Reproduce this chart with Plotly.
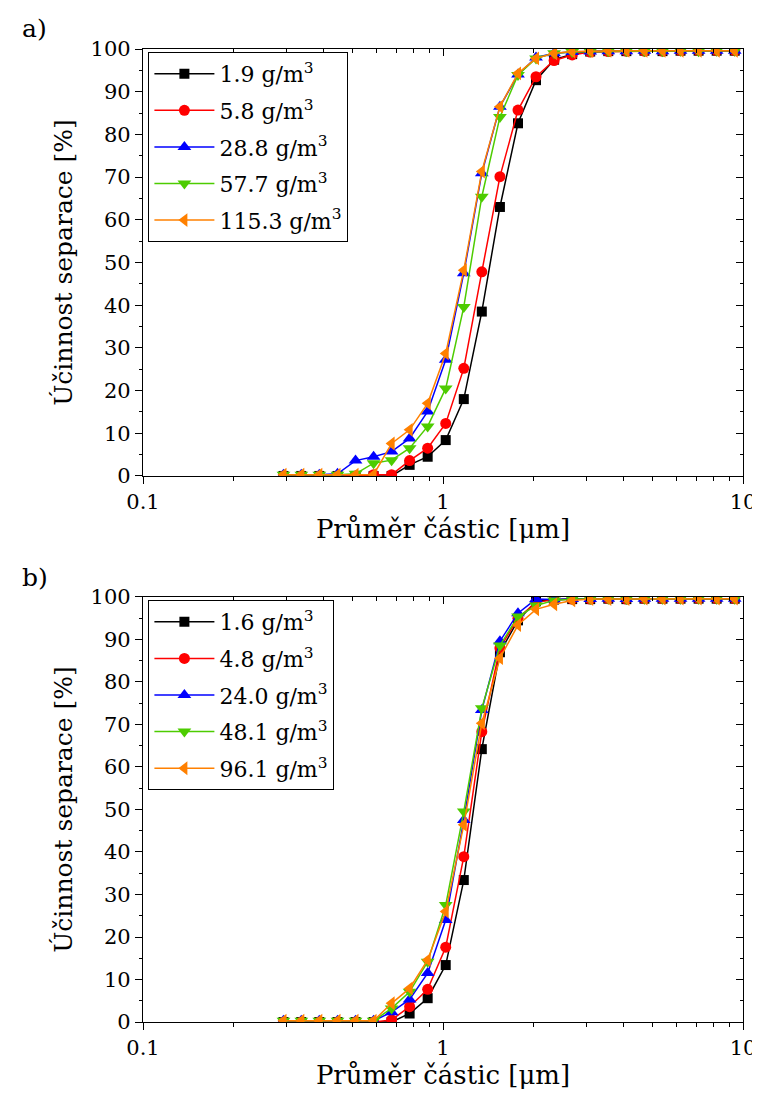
import plotly.graph_objects as go

# particle diameters [um]
diam = [0.294, 0.337, 0.387, 0.445, 0.511, 0.587, 0.674, 0.774, 0.889, 1.021,
        1.173, 1.347, 1.548, 1.778, 2.042, 2.346, 2.695, 3.095, 3.556, 4.085,
        4.692, 5.390, 6.191, 7.112, 8.170, 9.385]

# panel a)
labels_a = ["1.9 g/m<sup>3</sup>", "5.8 g/m<sup>3</sup>", "28.8 g/m<sup>3</sup>",
            "57.7 g/m<sup>3</sup>", "115.3 g/m<sup>3</sup>"]
a_19 = [0, 0, 0, 0, 0, 0, 0, 2.6, 4.5, 8.4, 18.0, 38.5, 63.0, 82.6, 92.7, 97.5,
        98.8, 99.4, 99.5, 99.5, 99.6, 99.5, 99.6, 99.6, 99.6, 99.6]
a_58 = [0, 0, 0, 0, 0, 0.3, 0.3, 3.6, 6.5, 12.3, 25.2, 47.8, 70.1, 85.7, 93.5, 97.3,
        98.6, 99.3, 99.4, 99.5, 99.5, 99.5, 99.6, 99.6, 99.6, 99.6]
a_288 = [0.3, 0.3, 0.3, 0.5, 3.6, 4.5, 5.7, 8.8, 15.1, 27.2, 47.5, 70.9, 86.5, 94.0,
         98.0, 99.0, 99.3, 99.4, 99.5, 99.5, 99.6, 99.5, 99.6, 99.6, 99.6, 99.6]
a_577 = [0.3, 0.3, 0.3, 0.3, 0.5, 3.0, 3.7, 6.5, 11.6, 20.5, 39.6, 65.4, 84.1, 93.9,
         97.8, 99.0, 99.3, 99.4, 99.5, 99.5, 99.5, 99.5, 99.6, 99.5, 99.6, 99.6]
a_1153 = [0.3, 0.3, 0.3, 0.3, 0.3, 0.3, 7.6, 10.8, 17.0, 28.7, 48.2, 71.3, 86.5, 94.3,
          97.8, 99.0, 99.4, 99.5, 99.6, 99.6, 99.6, 99.6, 99.6, 99.6, 99.6, 99.6]

# panel b)
labels_b = ["1.6 g/m<sup>3</sup>", "4.8 g/m<sup>3</sup>", "24.0 g/m<sup>3</sup>",
            "48.1 g/m<sup>3</sup>", "96.1 g/m<sup>3</sup>"]
b_16 = [0, 0, 0, 0, 0, 0, 0, 2.0, 5.6, 13.4, 33.4, 64.2, 87.0, 94.5, 99.0, 99.4,
        99.5, 99.5, 99.6, 99.5, 99.6, 99.6, 99.6, 99.6, 99.6, 99.6]
b_48 = [0, 0, 0, 0, 0, 0, 0.5, 3.6, 7.7, 17.6, 38.9, 68.3, 88.0, 95.0, 98.8, 99.3,
        99.5, 99.5, 99.6, 99.5, 99.6, 99.6, 99.6, 99.6, 99.6, 99.6]
b_240 = [0.3, 0.3, 0.3, 0.3, 0.3, 0.3, 2.3, 5.3, 11.5, 24.0, 47.5, 73.4, 89.6, 96.2,
         99.5, 99.4, 99.5, 99.5, 99.6, 99.5, 99.6, 99.6, 99.6, 99.6, 99.6, 99.6]
b_481 = [0.3, 0.3, 0.3, 0.3, 0.3, 0.3, 3.2, 7.1, 14.2, 27.5, 49.5, 73.8, 88.6, 95.4,
         98.0, 99.2, 99.5, 99.5, 99.6, 99.5, 99.6, 99.6, 99.6, 99.6, 99.6, 99.6]
b_961 = [0.3, 0.3, 0.3, 0.3, 0.3, 0.3, 4.4, 7.9, 14.6, 26.0, 46.4, 70.3, 85.6, 93.4,
         97.1, 98.3, 99.2, 99.5, 99.5, 99.5, 99.6, 99.6, 99.6, 99.6, 99.6, 99.6]

colors = ["#000000", "#ff0000", "#0000ff", "#4dcc00", "#ff8000"]
symbols = ["square", "circle", "triangle-up", "triangle-down", "triangle-left"]
sizes = [10, 11, 12, 12, 12]

x_ticks = [0.1, 1, 10]
x_ticktext = ["0.1", "1", "10"]
x_minor = [0.2, 0.3, 0.4, 0.5, 0.6, 0.7, 0.8, 0.9, 2, 3, 4, 5, 6, 7, 8, 9]

FONT = "DejaVu Serif"

fig = go.Figure()

for i, (ys, lab, c, s, sz) in enumerate(zip([a_19, a_58, a_288, a_577, a_1153], labels_a, colors, symbols, sizes)):
    fig.add_trace(go.Scatter(x=diam, y=ys, name=lab, mode="lines+markers",
                             line=dict(color=c, width=1.5),
                             marker=dict(symbol=s, size=sz, color=c),
                             legendgroup="a%d" % i,
                             xaxis="x", yaxis="y", legend="legend"))
for i, (ys, lab, c, s, sz) in enumerate(zip([b_16, b_48, b_240, b_481, b_961], labels_b, colors, symbols, sizes)):
    fig.add_trace(go.Scatter(x=diam, y=ys, name=lab, mode="lines+markers",
                             line=dict(color=c, width=1.5),
                             marker=dict(symbol=s, size=sz, color=c),
                             legendgroup="b%d" % i,
                             xaxis="x2", yaxis="y2", legend="legend2"))

# empty traces for the mirrored (inward-tick) frame axes
for xa, ya in [("x3", "y3"), ("x4", "y4")]:
    fig.add_trace(go.Scatter(x=[], y=[], xaxis=xa, yaxis=ya, showlegend=False, hoverinfo="skip"))

top_dom = [0.5612, 1.0]
bot_dom = [0.0, 0.4368]

def xaxis_main(anchor):
    return dict(type="log", range=[-1, 1], domain=[0, 1], anchor=anchor, automargin=False,
                tickvals=x_ticks, ticktext=x_ticktext, ticks="outside", ticklen=7,
                tickwidth=1, tickcolor="black",
                minor=dict(tickvals=x_minor, ticks="outside", ticklen=4, tickcolor="black"),
                showline=True, linecolor="black", linewidth=1.2, mirror=True,
                showgrid=False, zeroline=False,
                tickfont=dict(family=FONT, size=21, color="black"),
                title=dict(text="Průměr částic [μm]", font=dict(family=FONT, size=26, color="black"),
                           standoff=2))

def yaxis_main(anchor, dom):
    return dict(range=[0, 100], domain=dom, anchor=anchor, dtick=10, ticks="outside",
                automargin=False,
                ticklen=7, tickwidth=1, tickcolor="black",
                minor=dict(dtick=5, ticks="outside", ticklen=3, tickcolor="black"),
                showline=True, linecolor="black", linewidth=1.2, mirror=True,
                showgrid=False, zeroline=False,
                tickfont=dict(family=FONT, size=21, color="black"),
                title=dict(text="Účinnost separace [%]", font=dict(family=FONT, size=25, color="black"),
                           standoff=10))

def xaxis_top(over, anchor):
    return dict(type="log", range=[-1, 1], overlaying=over, side="top", anchor=anchor,
                automargin=False,
                tickvals=x_ticks, ticks="inside", ticklen=7, tickcolor="black",
                minor=dict(tickvals=x_minor, ticks="inside", ticklen=4, tickcolor="black"),
                showticklabels=False, showgrid=False, zeroline=False, showline=False)

def yaxis_right(over, anchor, dom):
    return dict(range=[0, 100], overlaying=over, side="right", anchor=anchor, domain=dom,
                automargin=False,
                dtick=10, ticks="inside", ticklen=7, tickcolor="black",
                minor=dict(dtick=5, ticks="inside", ticklen=3, tickcolor="black"),
                showticklabels=False, showgrid=False, zeroline=False, showline=False)

legend_common = dict(bgcolor="white", bordercolor="black", borderwidth=1,
                     font=dict(family=FONT, size=22, color="black"),
                     xanchor="left", yanchor="top", tracegroupgap=5, itemwidth=60)

fig.update_layout(
    width=760, height=1099,
    margin=dict(l=135, r=25, t=41, b=85, autoexpand=False),
    paper_bgcolor="white", plot_bgcolor="white",
    font=dict(family=FONT, color="black"),
    showlegend=True,
    xaxis=xaxis_main("y"),
    yaxis=yaxis_main("x", top_dom),
    xaxis2=xaxis_main("y2"),
    yaxis2=yaxis_main("x2", bot_dom),
    xaxis3=xaxis_top("x", "y3"),
    yaxis3=yaxis_right("y", "x3", top_dom),
    xaxis4=xaxis_top("x2", "y4"),
    yaxis4=yaxis_right("y2", "x4", bot_dom),
    legend=dict(x=0.009, y=0.997, **legend_common),
    legend2=dict(x=0.009, y=0.4337, **legend_common),
    annotations=[
        dict(text="a)", xref="paper", yref="paper", x=-0.205, y=1.021, xanchor="left",
             yanchor="middle", showarrow=False, font=dict(family=FONT, size=25, color="black")),
        dict(text="b)", xref="paper", yref="paper", x=-0.205, y=0.457, xanchor="left",
             yanchor="middle", showarrow=False, font=dict(family=FONT, size=25, color="black")),
    ],
)

fig.write_html("out.html")
